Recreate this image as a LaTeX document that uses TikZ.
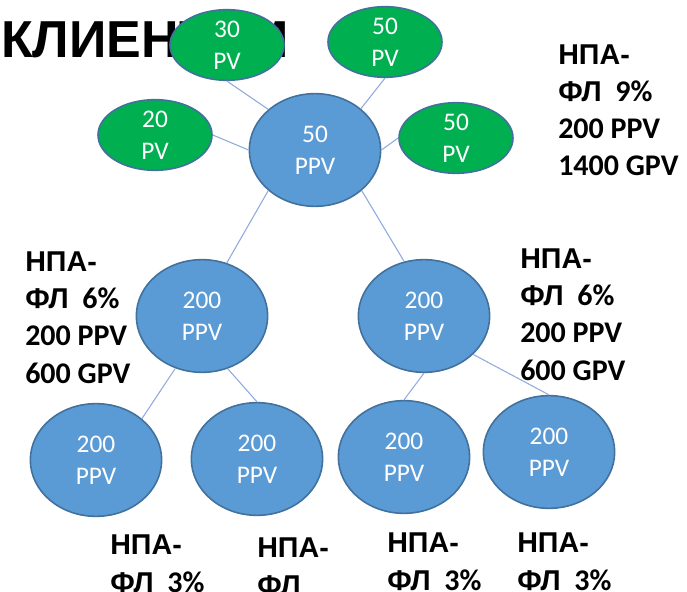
\documentclass[tikz,border=0pt]{standalone}
\usepackage{fontspec}
\setmainfont{Carlito}
\newfontfamily\titlefont{Liberation Sans}
\usetikzlibrary{shapes.geometric}
\definecolor{ppvblue}{RGB}{91,155,213}
\definecolor{rimblue}{RGB}{65,113,156}
\definecolor{pvgreen}{RGB}{0,176,80}
\definecolor{linkblue}{RGB}{143,170,220}
\newcommand{\cyr}[1]{{\titlefont\fontsize{21.5}{28}\selectfont #1}}

\begin{document}
\begin{tikzpicture}[x=0.75pt, y=-0.75pt]
		\tikzset{
			pv/.style={
				ellipse,
				draw=rimblue,
				line width=1.2pt,
				fill=pvgreen,
				text=white,
				inner sep=0pt,
				minimum width=85.5pt,
				minimum height=53pt,
				align=center,
				font=\fontsize{19}{24}\selectfont
			},
			ppv/.style={
				pv,
				fill=ppvblue,
				minimum width=98.5pt,
				minimum height=84.5pt
			},
			note/.style={
				anchor=base west,
				align=left,
				inner sep=0pt,
				font=\bfseries\fontsize{22.5}{28}\selectfont
			},
			line/.style={
				draw=linkblue,
				line width=0.8pt
			}
		}

		\useasboundingbox (0,0) rectangle (687,592);

		% title behind the circles
		\node[anchor=base west, inner sep=0pt,
			font=\titlefont\bfseries\fontsize{39}{44}\selectfont] (title) at (1, 58)
			{КЛИЕНТАМ};

		\node[pv] (pv30) at (227, 45)
			{30\\ PV};
		\node[pv] (pv50a) at (385, 42)
			{50\\ PV};
		\node[pv] (pv20) at (155, 135)
			{20\\ PV};
		\node[pv] (pv50b) at (456, 138)
			{50\\ PV};

		\node[ppv] (root) at (315, 150)
			{50\\ PPV};

		\node[ppv] (mid-l) at (202, 316)
			{200\\ PPV};
		\node[ppv] (mid-r) at (424, 316)
			{200\\ PPV};

		\node[ppv] (leaf1) at (96, 460)
			{200\\ PPV};
		\node[ppv] (leaf2) at (257, 459)
			{200\\ PPV};
		\node[ppv] (leaf3) at (404, 457)
			{200\\ PPV};
		\node[ppv] (leaf4) at (549, 452)
			{200\\ PPV};

		% base anchor sits on the last line
		\node[note] (note-root) at (558, 176)
			{\cyr{НПА-}\\ \cyr{ФЛ}~~9\%\\ 200 PPV\\ 1400 GPV};
		\node[note] (note-l) at (25, 383)
			{\cyr{НПА-}\\ \cyr{ФЛ}~~6\%\\ 200 PPV\\ 600 GPV};
		\node[note] (note-r) at (520, 380)
			{\cyr{НПА-}\\ \cyr{ФЛ}~~6\%\\ 200 PPV\\ 600 GPV};

		\node[note] (note1) at (110, 592)
			{\cyr{НПА-}\\ \cyr{ФЛ}~~3\%};
		\node[note] (note2) at (257, 595)
			{\cyr{НПА-}\\ \cyr{ФЛ}};
		\node[note] (note3) at (387, 590)
			{\cyr{НПА-}\\ \cyr{ФЛ}~~3\%};
		\node[note] (note4) at (517, 590)
			{\cyr{НПА-}\\ \cyr{ФЛ}~~3\%};

		\draw[line] (pv30.south) -- (root.139);
		\draw[line] (pv50a.south) -- (root.42);
		\draw[line] (pv20.east) -- (root.west);
		\draw[line] (pv50b.west) -- (root.east);

		\draw[line] (root.221) -- (mid-l.65);
		\draw[line] (root.-41) -- (mid-r.110);

		\draw[line] (mid-l.243) -- (leaf1.42);
		\draw[line] (mid-l.-64) -- (leaf2.north);
		\draw[line] (mid-r.south) -- (leaf3.north);
		\draw[line] (mid-r.-38) -- (leaf4.north);

	\end{tikzpicture}
\end{document}
